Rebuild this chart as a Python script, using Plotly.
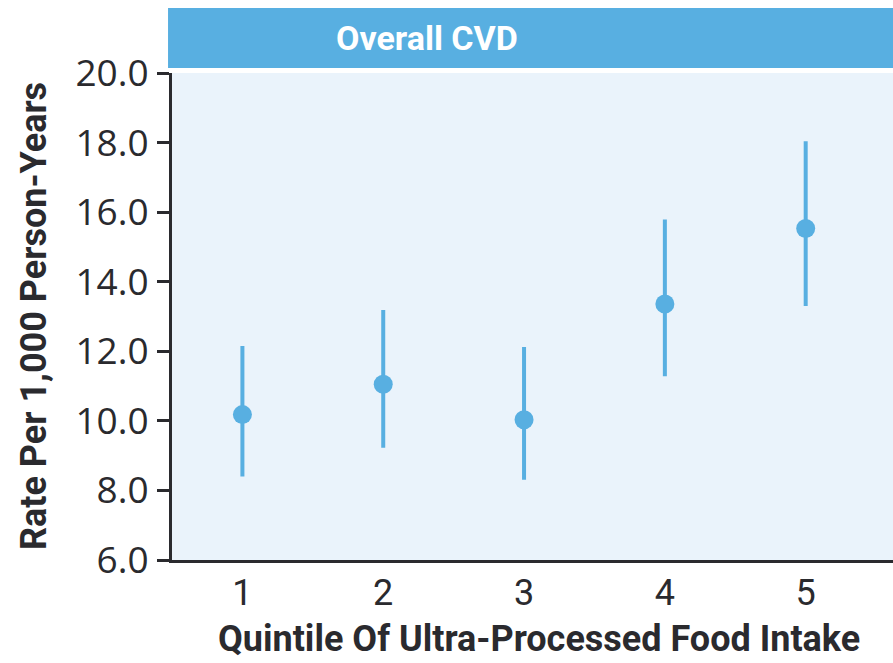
import plotly.graph_objects as go

quintiles = [1, 2, 3, 4, 5]
rates = [10.18, 11.05, 10.03, 13.36, 15.53]
ci_upper = [12.15, 13.19, 12.12, 15.79, 18.04]
ci_lower = [8.40, 9.23, 8.31, 11.28, 13.30]
y_ticks = [6.0, 8.0, 10.0, 12.0, 14.0, 16.0, 18.0, 20.0]
title_text = "Overall CVD"
x_title = "Quintile Of Ultra-Processed Food Intake"
y_title = "Rate Per 1,000 Person-Years"

blue = "#58afe1"
dark = "#2a2a2e"
cond = "Roboto, sans-serif"

err_plus = [u - r for u, r in zip(ci_upper, rates)]
err_minus = [r - l for r, l in zip(rates, ci_lower)]

fig = go.Figure()
fig.add_trace(go.Scatter(
    x=quintiles, y=rates, mode="markers",
    marker=dict(size=19, color=blue),
    error_y=dict(type="data", symmetric=False, array=err_plus, arrayminus=err_minus,
                 color=blue, thickness=4, width=0),
    showlegend=False, hoverinfo="skip",
))

fig.update_layout(
    width=893, height=663,
    margin=dict(l=172, r=0, t=73, b=103),
    paper_bgcolor="white",
    plot_bgcolor="#eaf3fb",
    xaxis=dict(range=[0.5, 5.62], tickvals=quintiles, ticktext=[str(q) for q in quintiles],
               showgrid=False, zeroline=False, showline=True, linecolor=dark, linewidth=3,
               ticks="", tickfont=dict(family=cond, size=36, color=dark), ticklabelstandoff=-1),
    yaxis=dict(range=[6, 20], tickvals=y_ticks, ticktext=[f"{v:.1f}" for v in y_ticks],
               showgrid=False, zeroline=False, showline=True, linecolor=dark, linewidth=3,
               ticks="outside", ticklen=12, tickwidth=3, tickcolor=dark, ticklabelstandoff=1,
               tickfont=dict(family="Open Sans, sans-serif", size=37, color=dark)),
    shapes=[dict(type="rect", xref="paper", yref="paper", x0=-0.0055, x1=1.0,
                 y0=1.0103, y1=1.1335, fillcolor=blue, line=dict(width=0), layer="above")],
    annotations=[
        dict(text=f"<b>{title_text}</b>", xref="paper", yref="paper", x=0.354, y=1.072,
             xanchor="center", yanchor="middle", showarrow=False,
             font=dict(family=cond, size=34, color="white")),
        dict(text=f"<b>{x_title}</b>", xref="paper", yref="paper", x=0.5097, y=-0.163,
             xanchor="center", yanchor="middle", showarrow=False,
             font=dict(family=cond, size=36, color=dark)),
        dict(text=f"<b>{y_title}</b>", xref="paper", yref="paper", x=-0.192, y=0.5,
             xanchor="center", yanchor="middle", showarrow=False, textangle=-90,
             font=dict(family=cond, size=36, color=dark)),
    ],
)

fig.write_html("out.html", config={"displayModeBar": False},
               post_script="document.body.style.margin='0';")
